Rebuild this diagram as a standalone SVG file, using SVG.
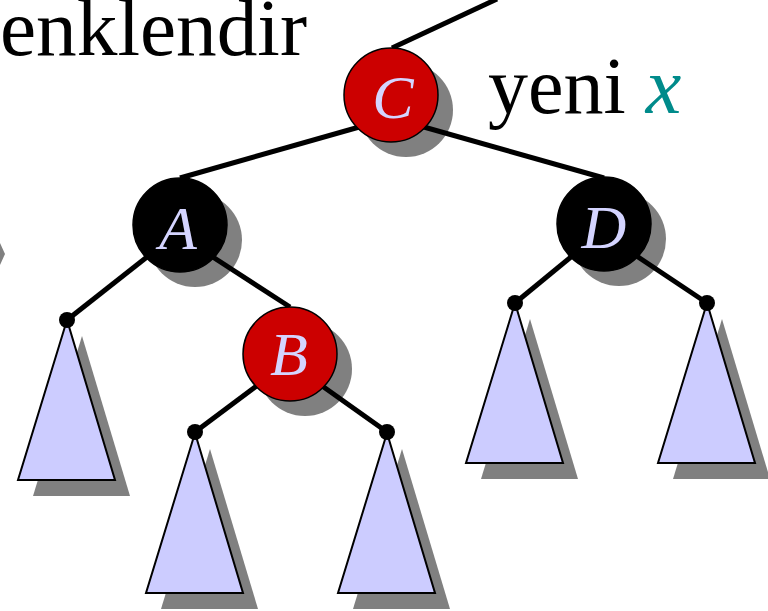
<svg xmlns="http://www.w3.org/2000/svg" width="768" height="611" viewBox="0 0 768 611">
<style>
.sh{fill:#808080;}
.edge{stroke:#000;stroke-width:5;fill:none;}
.red{fill:#cc0000;stroke:#000;stroke-width:1.5;}
.blk{fill:#000;stroke:#000;stroke-width:1.5;}
.lbl{font-family:"Liberation Serif","Times New Roman",serif;font-style:italic;font-size:62px;fill:#d4d4ff;text-anchor:middle;}
.tri{fill:#ccccff;stroke:#000;stroke-width:2;stroke-linejoin:miter;}
.txt{font-family:"Liberation Serif","Times New Roman",serif;font-size:80px;fill:#000;}
</style>
<defs>
<polygon id="tri" points="0,0 -49,160 48,160"/>
</defs>
<rect width="768" height="611" fill="#fff"/>
<text class="txt" x="0" y="55" font-size="82" textLength="307" lengthAdjust="spacingAndGlyphs">enklendir</text>
<text class="txt" x="488" y="113">yeni <tspan font-style="italic" fill="#008b8b">x</tspan></text>
<polygon class="sh" points="0,243 5,254 0,265"/>

<g id="shadows">
<circle class="sh" cx="406" cy="110" r="47"/>
<circle class="sh" cx="195" cy="240" r="47"/>
<circle class="sh" cx="619" cy="239" r="47"/>
<circle class="sh" cx="305" cy="369" r="47"/>
</g>

<g id="connectors">
<line class="edge" x1="392" y1="48" x2="497" y2="-1"/>
<line class="edge" x1="391" y1="118" x2="180" y2="178"/>
<line class="edge" x1="392" y1="118" x2="604" y2="178"/>
<line class="edge" x1="67" y1="320" x2="152" y2="253"/>
<line class="edge" x1="205" y1="252" x2="290" y2="307"/>
<line class="edge" x1="195" y1="432" x2="262" y2="382"/>
<line class="edge" x1="318" y1="383" x2="387" y2="432"/>
<line class="edge" x1="515" y1="303" x2="577" y2="252"/>
<line class="edge" x1="632" y1="253" x2="707" y2="303"/>
</g>

<g id="node-C"><circle class="red" cx="391" cy="95" r="47"/><text class="lbl" x="393" y="118">C</text></g>
<g id="node-A"><circle class="blk" cx="180" cy="225" r="47"/><text class="lbl" x="178" y="249">A</text></g>
<g id="node-D"><circle class="blk" cx="604" cy="224" r="47"/><text class="lbl" x="604" y="248">D</text></g>
<g id="node-B"><circle class="red" cx="290" cy="354" r="47"/><text class="lbl" x="289" y="375">B</text></g>

<g id="subtree-1"><use href="#tri" class="sh" x="82" y="336"/><use href="#tri" class="tri" x="67" y="320"/><circle cx="67" cy="320" r="8"/></g>
<g id="subtree-2"><use href="#tri" class="sh" x="210" y="449"/><use href="#tri" class="tri" x="195" y="433"/><circle cx="195" cy="432" r="8"/></g>
<g id="subtree-3"><use href="#tri" class="sh" x="402" y="449"/><use href="#tri" class="tri" x="387" y="433"/><circle cx="387" cy="432" r="8"/></g>
<g id="subtree-4"><use href="#tri" class="sh" x="530" y="319"/><use href="#tri" class="tri" x="515" y="303"/><circle cx="515" cy="303" r="8"/></g>
<g id="subtree-5"><use href="#tri" class="sh" x="722" y="319"/><use href="#tri" class="tri" x="707" y="303"/><circle cx="707" cy="303" r="8"/></g>
</svg>
